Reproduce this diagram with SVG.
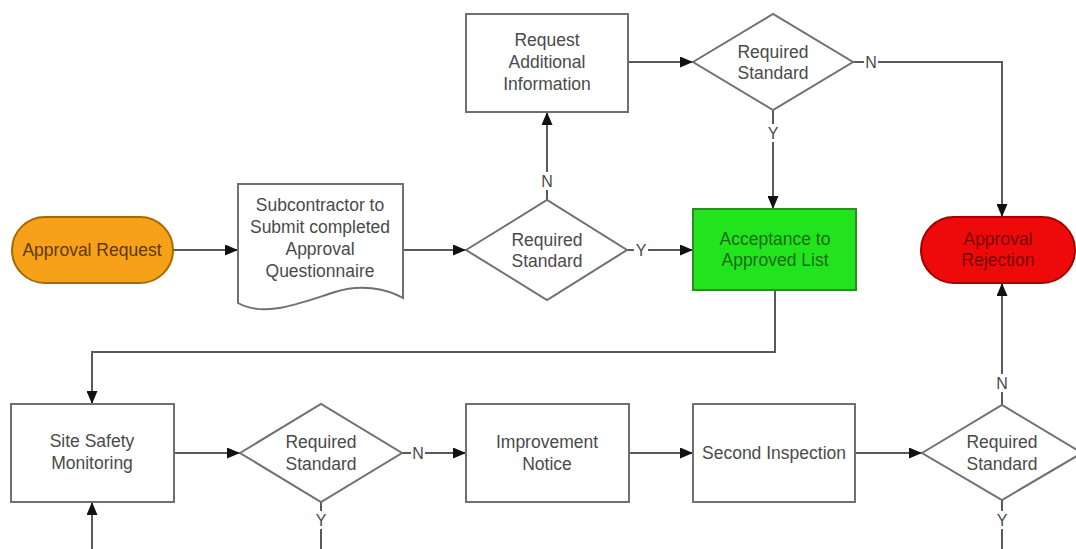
<svg xmlns="http://www.w3.org/2000/svg" width="1076" height="549" viewBox="0 0 1076 549">
<style>
.box{fill:#fff;stroke:#707070;stroke-width:2}
.t{font-family:"Liberation Sans",Arial,sans-serif;font-size:17.5px;fill:#4a4a4a;text-anchor:middle}
.lbl{font-family:"Liberation Sans",Arial,sans-serif;font-size:16px;fill:#4a4a4a;text-anchor:middle}
.c{fill:none;stroke:#5a5a5a;stroke-width:2}
.bg{fill:#fff}
</style>
<defs>
<marker id="ah" viewBox="0 0 13 11" refX="13" refY="5.5" markerWidth="13" markerHeight="11" markerUnits="userSpaceOnUse" orient="auto">
<path d="M0,0 L13,5.5 L0,11 Z" fill="#111"/>
</marker>
</defs>
<rect width="1076" height="549" fill="#fff"/>

<g id="connectors">
<path class="c" d="M173,250 H238" marker-end="url(#ah)"/>
<path class="c" d="M403,250 H466" marker-end="url(#ah)"/>
<path class="c" d="M627,250 H693" marker-end="url(#ah)"/>
<path class="c" d="M547,200 V112" marker-end="url(#ah)"/>
<path class="c" d="M628,62 H693" marker-end="url(#ah)"/>
<path class="c" d="M853,62 H1002 V217" marker-end="url(#ah)"/>
<path class="c" d="M773,110 V209" marker-end="url(#ah)"/>
<path class="c" d="M775,290 V352 H92 V404" marker-end="url(#ah)"/>
<path class="c" d="M92,549 V502" marker-end="url(#ah)"/>
<path class="c" d="M174,453 H240" marker-end="url(#ah)"/>
<path class="c" d="M402,453 H466" marker-end="url(#ah)"/>
<path class="c" d="M629,453 H693" marker-end="url(#ah)"/>
<path class="c" d="M855,453 H922" marker-end="url(#ah)"/>
<path class="c" d="M321,502 V549"/>
<path class="c" d="M1002,500 V549"/>
<path class="c" d="M1002,405 V283" marker-end="url(#ah)"/>
<rect class="bg" x="634" y="241" width="14" height="18"/>
<text class="lbl" x="641" y="256">Y</text>
<rect class="bg" x="540" y="172" width="14" height="18"/>
<text class="lbl" x="547" y="187">N</text>
<rect class="bg" x="864" y="53" width="14" height="18"/>
<text class="lbl" x="871" y="68">N</text>
<rect class="bg" x="766" y="124" width="14" height="18"/>
<text class="lbl" x="773" y="139">Y</text>
<rect class="bg" x="411" y="444" width="14" height="18"/>
<text class="lbl" x="418" y="459">N</text>
<rect class="bg" x="314" y="511" width="14" height="18"/>
<text class="lbl" x="321" y="526">Y</text>
<rect class="bg" x="995" y="374" width="14" height="18"/>
<text class="lbl" x="1002" y="389">N</text>
<rect class="bg" x="995" y="511" width="14" height="18"/>
<text class="lbl" x="1002" y="526">Y</text>
</g>

<g id="approval-request">
<rect x="12" y="217" width="161" height="66" rx="33" fill="#F7A11A" stroke="#A86A00" stroke-width="2"/>
<text class="t" x="92" y="256" style="fill:#5C3A00">Approval Request</text>
</g>

<g id="questionnaire">
<path class="box" d="M238,184 H403 V298 C385,288 360,284 335,292 C300,303 265,318 238,303 Z"/>
<text class="t" x="320" y="211">Subcontractor to</text>
<text class="t" x="320" y="233">Submit completed</text>
<text class="t" x="320" y="255">Approval</text>
<text class="t" x="320" y="277">Questionnaire</text>
</g>

<g id="decision-1">
<path class="box" d="M466,250 L547,200 L627,250 L547,300 Z"/>
<text class="t" x="547" y="246">Required</text>
<text class="t" x="547" y="267">Standard</text>
</g>

<g id="request-info">
<rect class="box" x="466" y="14" width="162" height="98"/>
<text class="t" x="547" y="46">Request</text>
<text class="t" x="547" y="68">Additional</text>
<text class="t" x="547" y="90">Information</text>
</g>

<g id="decision-2">
<path class="box" d="M693,62 L773,14 L853,62 L773,110 Z"/>
<text class="t" x="773" y="58">Required</text>
<text class="t" x="773" y="79">Standard</text>
</g>

<g id="acceptance">
<rect x="693" y="209" width="163" height="81" fill="#22E41C" stroke="#2F8A2A" stroke-width="2"/>
<text class="t" x="775" y="245" style="fill:#1A6A18">Acceptance to</text>
<text class="t" x="775" y="266" style="fill:#1A6A18">Approved List</text>
</g>

<g id="rejection">
<rect x="921" y="217" width="154" height="66" rx="33" fill="#EE0A0A" stroke="#A00000" stroke-width="2"/>
<text class="t" x="998" y="245" style="fill:#7A0000">Approval</text>
<text class="t" x="998" y="266" style="fill:#7A0000">Rejection</text>
</g>

<g id="site-safety">
<rect class="box" x="11" y="404" width="163" height="98"/>
<text class="t" x="92" y="447">Site Safety</text>
<text class="t" x="92" y="469">Monitoring</text>
</g>

<g id="decision-3">
<path class="box" d="M240,453 L321,404 L402,453 L321,502 Z"/>
<text class="t" x="321" y="448">Required</text>
<text class="t" x="321" y="470">Standard</text>
</g>

<g id="improvement">
<rect class="box" x="466" y="404" width="163" height="98"/>
<text class="t" x="547" y="448">Improvement</text>
<text class="t" x="547" y="470">Notice</text>
</g>

<g id="second-inspection">
<rect class="box" x="693" y="404" width="162" height="98"/>
<text class="t" x="774" y="459">Second Inspection</text>
</g>

<g id="decision-4">
<path class="box" d="M922,453 L1002,405 L1082,453 L1002,500 Z"/>
<text class="t" x="1002" y="448">Required</text>
<text class="t" x="1002" y="470">Standard</text>
</g>
</svg>
